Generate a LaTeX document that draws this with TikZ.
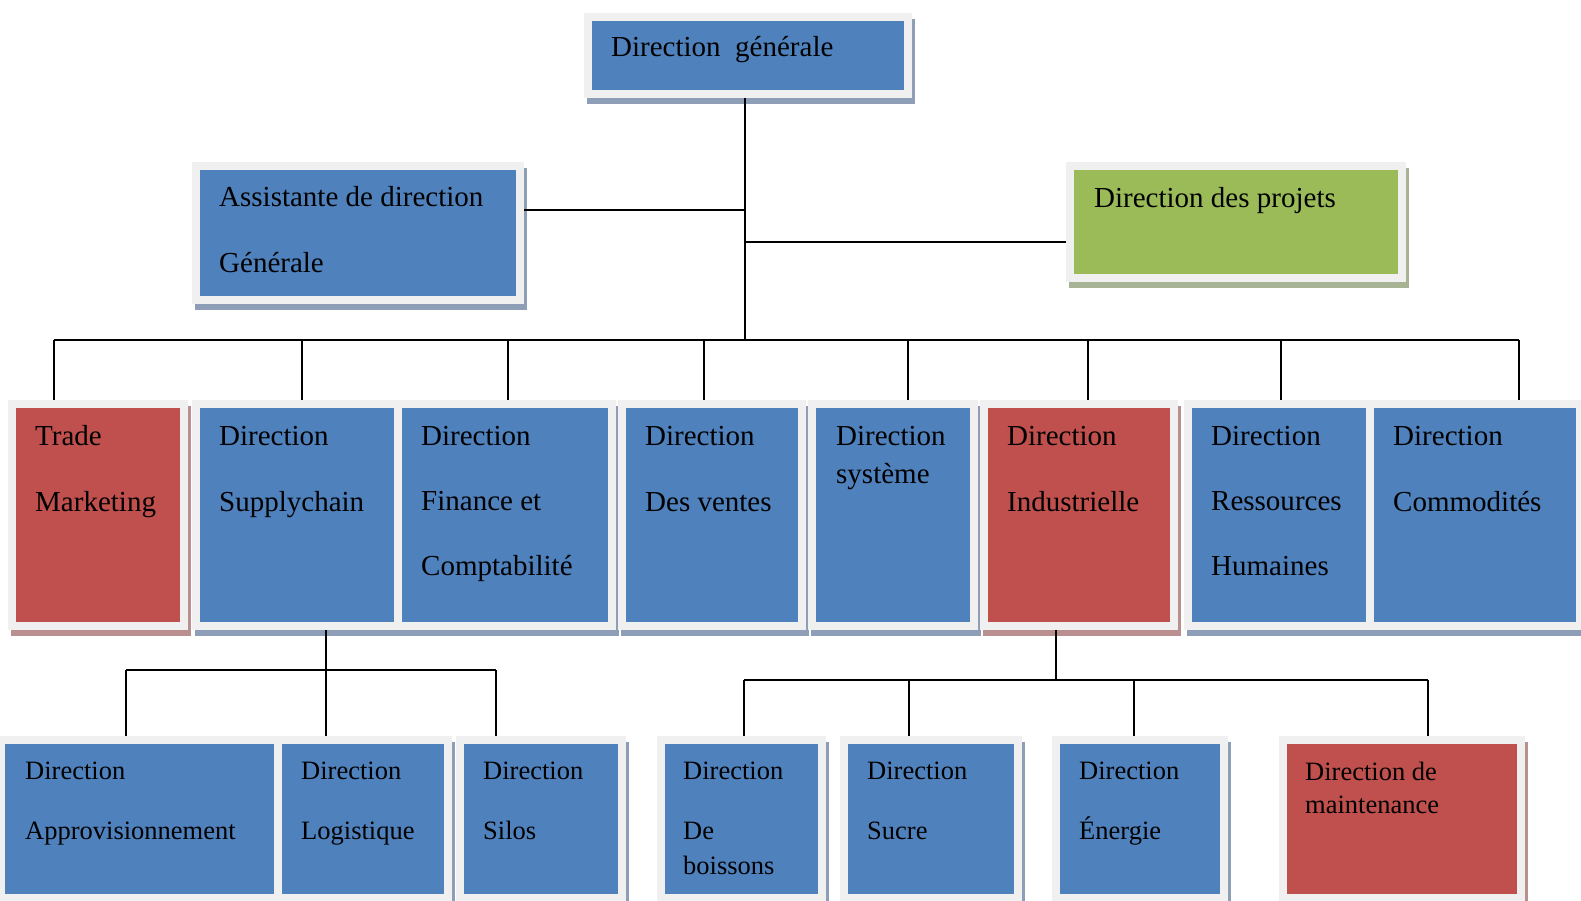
\documentclass[tikz,border=0pt]{standalone}
\usepackage{fontspec}
\setmainfont{Liberation Serif}
\usetikzlibrary{shadows}
\definecolor{cblue}{HTML}{4F81BD}
\definecolor{cred}{HTML}{C0504D}
\definecolor{cgreen}{HTML}{9BBB59}
\definecolor{framegray}{HTML}{F0F0F0}
\definecolor{sblue}{HTML}{8D9EB6}
\definecolor{sred}{HTML}{B98F8F}
\definecolor{sgreen}{HTML}{A7B394}
\newcommand\lns[2]{\vtop{\baselineskip=#1pt\relax\halign{##\hfil\cr#2\cr}}}
\tikzset{
  boxbase/.style={draw=framegray, line width=8pt, inner sep=0pt, outer sep=4pt},
  bbox/.style={boxbase, fill=cblue, drop shadow={shadow xshift=3pt, shadow yshift=-6pt, opacity=1, fill=sblue, draw=sblue, line width=8pt}},
  rbox/.style={boxbase, fill=cred, drop shadow={shadow xshift=3pt, shadow yshift=-6pt, opacity=1, fill=sred, draw=sred, line width=8pt}},
  gbox/.style={boxbase, fill=cgreen, drop shadow={shadow xshift=3pt, shadow yshift=-6pt, opacity=1, fill=sgreen, draw=sgreen, line width=8pt}},
  txt/.style={anchor=base west, inner sep=0pt, font=\fontsize{29}{29}\selectfont},
  txtb/.style={anchor=base west, inner sep=0pt, font=\fontsize{26.5}{26.5}\selectfont},
  conn/.style={line width=1.7pt, black},
}
\begin{document}
\begin{tikzpicture}[x=1pt, y=-1pt]
\useasboundingbox[fill=white] (0,0) rectangle (1581,901);

% top level
\node[bbox, minimum width=320pt, minimum height=77pt] (dg) at (748,55.5) {};
\node[txt] (dg-t) at (611,57) {Direction\ \ générale};
\node[bbox, minimum width=324pt, minimum height=134pt] (ad) at (358,233) {};
\node[txt] (ad-t) at (219,207) {\lns{66}{Assistante de direction\cr Générale}};
\node[gbox, minimum width=332pt, minimum height=112pt] (dp) at (1236,222) {};
\node[txt] (dp-t) at (1094,208) {Direction des projets};

% second row
\node[rbox, minimum width=172pt, minimum height=222pt] (tm) at (98,515) {};
\node[bbox, minimum width=202pt, minimum height=222pt] (sc) at (297,515) {};
\node[bbox, minimum width=214pt, minimum height=222pt] (fc) at (505,515) {};
\node[bbox, minimum width=180pt, minimum height=222pt] (dv) at (712,515) {};
\node[bbox, minimum width=162pt, minimum height=222pt] (ds) at (893,515) {};
\node[rbox, minimum width=190pt, minimum height=222pt] (di) at (1079,515) {};
\node[bbox, minimum width=182pt, minimum height=222pt] (rh) at (1279,515) {};
\node[bbox, minimum width=210pt, minimum height=222pt] (cm) at (1475,515) {};

\node[txt] (tm-t) at (35,445) {\lns{66}{Trade\cr Marketing}};
\node[txt] (sc-t) at (219,445) {\lns{66}{Direction\cr Supplychain}};
\node[txt] (fc-t) at (421,445) {\lns{65}{Direction\cr Finance et\cr Comptabilité}};
\node[txt] (dv-t) at (645,445) {\lns{66}{Direction\cr Des ventes}};
\node[txt] (ds-t) at (836,445) {\lns{38}{Direction\cr système}};
\node[txt] (di-t) at (1007,445) {\lns{66}{Direction\cr Industrielle}};
\node[txt] (rh-t) at (1211,445) {\lns{65}{Direction\cr Ressources\cr Humaines}};
\node[txt] (cm-t) at (1393,445) {\lns{66}{Direction\cr Commodités}};

% third row
\node[bbox, minimum width=277pt, minimum height=158pt] (ap) at (139.5,819) {};
\node[bbox, minimum width=170pt, minimum height=158pt] (lo) at (363,819) {};
\node[bbox, minimum width=162pt, minimum height=158pt] (si) at (541,819) {};
\node[bbox, minimum width=161pt, minimum height=158pt] (bo) at (741.5,819) {};
\node[bbox, minimum width=174pt, minimum height=158pt] (su) at (931,819) {};
\node[bbox, minimum width=168pt, minimum height=158pt] (en) at (1140,819) {};
\node[rbox, minimum width=238pt, minimum height=158pt] (ma) at (1402,819) {};

\node[txtb] (ap-t) at (25,779) {\lns{60}{Direction\cr Approvisionnement}};
\node[txtb] (lo-t) at (301,779) {\lns{60}{Direction\cr Logistique}};
\node[txtb] (si-t) at (483,779) {\lns{60}{Direction\cr Silos}};
\node[txtb] (bo-t) at (683,779) {\vtop{\baselineskip=60pt\hbox{Direction}\hbox{De}\baselineskip=35pt\hbox{boissons}}};
\node[txtb] (su-t) at (867,779) {\lns{60}{Direction\cr Sucre}};
\node[txtb] (en-t) at (1079,779) {\lns{60}{Direction\cr Énergie}};
\node[txtb] (ma-t) at (1305,780) {\lns{33}{Direction de\cr maintenance}};

% connectors: top
\coordinate (tr) at (745,340);
\draw[conn] (dg.south -| tr) -- (tr);
\coordinate (ja) at (745,210);
\draw[conn] (ja) -- (ja -| ad.east);
\coordinate (jp) at (745,242);
\draw[conn] (jp) -- (jp -| dp.west);
\coordinate (bl) at (54,340);
\coordinate (br) at (1519,340);
\draw[conn] (bl) -- (br);
\foreach \x/\n in {54/tm, 302/sc, 508/fc, 704/dv, 908/ds, 1088/di, 1281/rh, 1519/cm}{
  \coordinate (b-\n) at (\x,340);
  \draw[conn] (b-\n) -- (b-\n |- \n.north);
}

% connectors: supply chain
\coordinate (s1) at (326,670);
\coordinate (s1l) at (126,670);
\coordinate (s1r) at (496,670);
\draw[conn] (s1 |- sc.south) -- (s1 |- lo.north);
\draw[conn] (s1l) -- (s1r);
\draw[conn] (s1l) -- (s1l |- ap.north);
\draw[conn] (s1r) -- (s1r |- si.north);

% connectors: industrielle
\coordinate (s2) at (1056,680);
\coordinate (s2l) at (744,680);
\coordinate (s2r) at (1428,680);
\draw[conn] (s2 |- di.south) -- (s2);
\draw[conn] (s2l) -- (s2r);
\foreach \x/\n in {744/bo, 909/su, 1134/en, 1428/ma}{
  \coordinate (c-\n) at (\x,680);
  \draw[conn] (c-\n) -- (c-\n |- \n.north);
}
\end{tikzpicture}
\end{document}
